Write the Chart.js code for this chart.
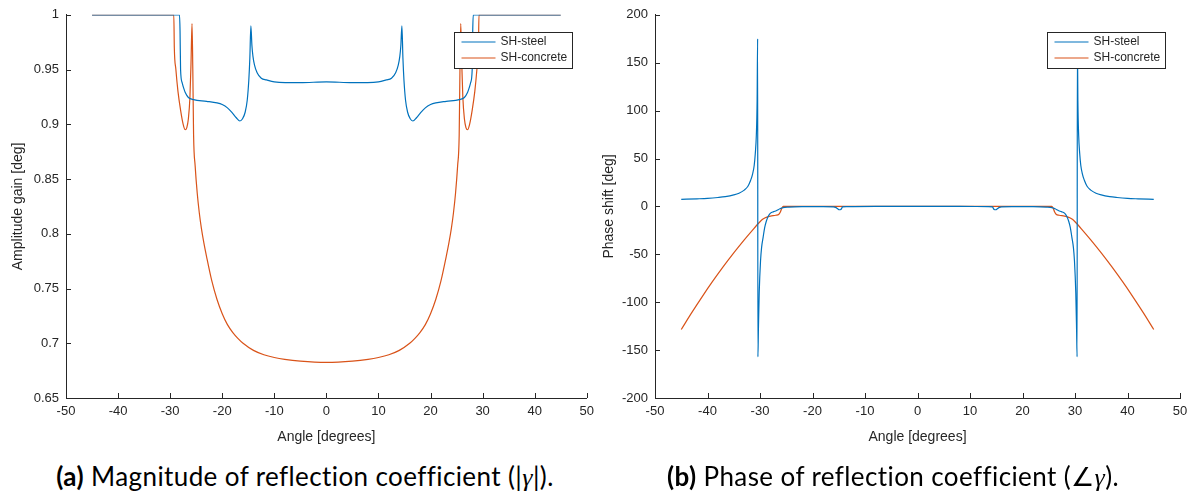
<!DOCTYPE html>
<html>
<head>
<meta charset="utf-8">
<script src="https://cdn.jsdelivr.net/npm/chart.js@4.4.1/dist/chart.umd.min.js"></script>
<style>
  body { margin: 0; background: #fff; }
  #wrap { position: relative; width: 1194px; height: 494px; overflow: hidden; }
  .panel { position: absolute; top: 0; height: 450px; }
  .cap { position: absolute; top: 461px; width: 600px; text-align: center; letter-spacing: 0.4px;
         font-family: Lato, "Open Sans", sans-serif; font-size: 26px; line-height: 30px; color: #000; }
  .cap b { font-weight: 700; }
  .cap i { font-family: "Liberation Serif", serif; font-style: italic; }
</style>
</head>
<body>
<div id="wrap">
  <div class="panel" style="left:0;width:600px"><canvas id="ampChart"></canvas></div>
  <div class="panel" style="left:597px;width:597px"><canvas id="phaseChart"></canvas></div>
  <div class="cap" style="left:5px"><b>(a)</b> Magnitude of reflection coefficient (|<i>γ</i>|).</div>
  <div class="cap" style="left:593px"><b>(b)</b> Phase of reflection coefficient (∠<i>γ</i>).</div>
</div>
<script>
// angle axis
const angleTicks = [-50, -40, -30, -20, -10, 0, 10, 20, 30, 40, 50];
const ampTicks = [0.65, 0.7, 0.75, 0.8, 0.85, 0.9, 0.95, 1];
const ampTickLabels = ['0.65', '0.7', '0.75', '0.8', '0.85', '0.9', '0.95', '1'];
const phaseTicks = [-200, -150, -100, -50, 0, 50, 100, 150, 200];
const seriesNames = ['SH-steel', 'SH-concrete'];

// (a) amplitude, steel
const ampSteelX = [-45, -28.2, -28.1, -28.0, -27.7, -27.4, -27.1, -26.5, -25.5, -23, -21, -20, -19, -18, -17.3, -16.6, -16.1, -15.6, -15.2, -14.9, -14.7, -14.5, -14.3, -14.1, -13.8, -13.3, -12.5, -11.5, -10, -5,
  0,
  5, 10, 11.5, 12.5, 13.3, 13.8, 14.1, 14.3, 14.5, 14.7, 14.9, 15.2, 15.6, 16.1, 16.6, 17.3, 18, 19, 20, 21, 23, 25.5, 26.5, 27.1, 27.4, 27.7, 28.0, 28.1, 28.2, 45];
const ampSteelY = [1, 1, 0.985, 0.95, 0.938, 0.933, 0.929, 0.9245, 0.9225, 0.921, 0.9195, 0.918, 0.915, 0.91, 0.906, 0.903, 0.905, 0.911, 0.922, 0.94, 0.96, 0.99, 0.972, 0.962, 0.954, 0.947, 0.942, 0.9405, 0.9388, 0.938,
  0.9388,
  0.938, 0.9388, 0.9405, 0.942, 0.947, 0.954, 0.962, 0.972, 0.99, 0.96, 0.94, 0.922, 0.911, 0.905, 0.903, 0.906, 0.91, 0.915, 0.918, 0.9195, 0.921, 0.9225, 0.9245, 0.929, 0.933, 0.938, 0.95, 0.985, 1, 1];

// (a) amplitude, concrete
const ampConcX = [-45, -29.3, -29.2, -28.9, -28.5, -28.0, -27.5, -27.1, -26.8, -26.5, -26.2, -26.0, -25.8, -25.65, -25.5, -25.2, -24.8, -24.4, -24, -23.5, -23, -22, -21, -20, -19, -18, -17, -16, -14, -12, -10, -8, -5,
  0,
  5, 8, 10, 12, 14, 16, 17, 18, 19, 20, 21, 22, 23, 23.5, 24, 24.4, 24.8, 25.2, 25.5, 25.65, 25.8, 26.0, 26.2, 26.5, 26.8, 27.1, 27.5, 28.0, 28.5, 28.9, 29.2, 29.3, 45];
const ampConcY = [1, 1, 0.97, 0.95, 0.93, 0.913, 0.9, 0.895, 0.897, 0.905, 0.925, 0.955, 0.992, 0.95, 0.89, 0.862, 0.837, 0.819, 0.805, 0.791, 0.779, 0.757, 0.74, 0.727, 0.717, 0.71, 0.7045, 0.7, 0.6935, 0.6895, 0.687, 0.6853, 0.6837,
  0.6826,
  0.6837, 0.6853, 0.687, 0.6895, 0.6935, 0.7, 0.7045, 0.71, 0.717, 0.727, 0.74, 0.757, 0.779, 0.791, 0.805, 0.819, 0.837, 0.862, 0.89, 0.95, 0.992, 0.955, 0.925, 0.905, 0.897, 0.895, 0.9, 0.913, 0.93, 0.95, 0.97, 1, 1];

// (b) phase, steel
const phaseSteelX = [-45, -42, -40, -38, -36.6, -35, -34, -33, -32.3, -31.8, -31.4, -31.1, -30.9, -30.7, -30.55, -30.45, -30.4, -30.3, -30.15, -29.9, -29.7, -29.4, -29.1, -28.8, -28.4, -28.0, -27.4, -26.9, -26.2, -25.6, -24.5, -22, -18, -16, -15.6, -15.2, -14.9, -14.6, -14.4, -14.3, -13.5, -8,
  0,
  8, 13.5, 14.3, 14.4, 14.6, 14.9, 15.2, 15.6, 16, 18, 22, 24.5, 25.6, 26.2, 26.9, 27.4, 28.0, 28.4, 28.8, 29.1, 29.4, 29.7, 29.9, 30.15, 30.3, 30.4, 30.45, 30.55, 30.7, 30.9, 31.1, 31.4, 31.8, 32.3, 33, 34, 35, 36.6, 38, 40, 42, 45];
const phaseSteelY = [7.3, 7.9, 8.4, 9.3, 10.2, 12, 13.8, 17, 21, 27, 34, 43, 55, 74, 110, 175, -157, -128, -90, -57, -43, -32, -22, -15.5, -10, -7, -5.5, -4.5, -2.5, -1.2, -0.7, -0.3, -0.2, -0.4, -1, -2.5, -3.5, -3.2, -1.5, -0.5, -0.2, 0,
  0,
  0, -0.2, -0.5, -1.5, -3.2, -3.5, -2.5, -1, -0.4, -0.2, -0.3, -0.7, -1.2, -2.5, -4.5, -5.5, -7, -10, -15.5, -22, -32, -43, -57, -90, -128, -157, 175, 110, 74, 55, 43, 34, 27, 21, 17, 13.8, 12, 10.2, 9.3, 8.4, 7.9, 7.3];

// (b) phase, concrete
const phaseConcX = [-45, -43, -41, -39, -37, -35, -33, -31.5, -30, -29.5, -29, -28.5, -28, -27, -26.4, -26.1, -25.8, -25.6,
  0,
  25.6, 25.8, 26.1, 26.4, 27, 28, 28.5, 29, 29.5, 30, 31.5, 33, 35, 37, 39, 41, 43, 45];
const phaseConcY = [-128.5, -110.9, -94.1, -78.1, -62.9, -48.5, -34.9, -25.2, -16, -13.5, -11.8, -10.8, -10.1, -9.2, -8.2, -5.5, -1.5, 0,
  0,
  0, -1.5, -5.5, -8.2, -9.2, -10.1, -10.8, -11.8, -13.5, -16, -25.2, -34.9, -48.5, -62.9, -78.1, -94.1, -110.9, -128.5];

const BLUE = '#0072BD';
const ORANGE = '#D95319';
const AXIS = '#262626';
const FONT = 'Liberation Sans, Arial, Helvetica, sans-serif';

function pts(xs, ys) {
  return xs.map((x, i) => ({ x: x, y: ys[i] }));
}

// legend box drawn inside the plot, top right (matlab style)
const insideLegend = {
  id: 'insideLegend',
  afterDatasetsDraw(chart, args, opts) {
    const ctx = chart.ctx;
    const area = chart.chartArea;
    const w = 118, h = 36;
    const x = Math.round(area.right - opts.right - w) + 0.5;
    const y = Math.round(area.top + 17) + 0.5;
    ctx.save();
    ctx.fillStyle = '#fff';
    ctx.fillRect(x, y, w, h);
    ctx.strokeStyle = AXIS;
    ctx.lineWidth = 1;
    ctx.strokeRect(x, y, w, h);
    ctx.font = '12px ' + FONT;
    ctx.textBaseline = 'middle';
    chart.data.datasets.forEach((ds, i) => {
      const ly = y + 9.5 + i * 16;
      ctx.strokeStyle = ds.borderColor;
      ctx.lineWidth = 1.2;
      ctx.beginPath();
      ctx.moveTo(x + 7, ly);
      ctx.lineTo(x + 41, ly);
      ctx.stroke();
      ctx.fillStyle = AXIS;
      ctx.fillText(ds.label, x + 46, ly);
    });
    ctx.restore();
  }
};

// tick marks pointing into the plot
const innerTicks = {
  id: 'innerTicks',
  afterDraw(chart) {
    const ctx = chart.ctx;
    const area = chart.chartArea;
    const sx = chart.scales.x, sy = chart.scales.y;
    ctx.save();
    ctx.strokeStyle = AXIS;
    ctx.lineWidth = 1;
    ctx.beginPath();
    sx.ticks.forEach(t => {
      const px = Math.round(sx.getPixelForValue(t.value)) + 0.5;
      ctx.moveTo(px, area.bottom);
      ctx.lineTo(px, area.bottom - 5);
    });
    sy.ticks.forEach(t => {
      const py = Math.round(sy.getPixelForValue(t.value)) + 0.5;
      ctx.moveTo(area.left, py);
      ctx.lineTo(area.left + 5, py);
    });
    ctx.stroke();
    ctx.restore();
  }
};

function makeChart(id, sets, yMin, yMax, yTicks, yLabels, yTitle, yWidth, titlePad, padRight, legendRight) {
  return new Chart(document.getElementById(id), {
    type: 'scatter',
    data: {
      datasets: sets.map((s, i) => ({
        label: seriesNames[i],
        data: s,
        showLine: true,
        borderColor: i === 0 ? BLUE : ORANGE,
        borderWidth: 1.2,
        pointRadius: 0,
        cubicInterpolationMode: 'monotone'
      }))
    },
    options: {
      responsive: true,
      maintainAspectRatio: false,
      animation: false,
      layout: { padding: { top: 10, right: padRight, bottom: 0, left: 0 } },
      plugins: {
        legend: { display: false },
        tooltip: { enabled: false },
        insideLegend: { right: legendRight }
      },
      scales: {
        x: {
          type: 'linear',
          min: -50,
          max: 50,
          afterBuildTicks: s => { s.ticks = angleTicks.map(v => ({ value: v })); },
          afterFit: s => { s.height = 52; },
          grid: { drawOnChartArea: false, drawTicks: false },
          border: { color: AXIS, width: 1 },
          ticks: { color: AXIS, font: { family: FONT, size: 13 }, padding: 6, maxRotation: 0, autoSkip: false },
          title: { display: true, text: 'Angle [degrees]', color: AXIS, font: { family: FONT, size: 14 }, padding: { top: 2, bottom: 4 } }
        },
        y: {
          type: 'linear',
          min: yMin,
          max: yMax,
          afterBuildTicks: s => { s.ticks = yTicks.map(v => ({ value: v })); },
          afterFit: s => { s.width = yWidth; },
          grid: { drawOnChartArea: false, drawTicks: false },
          border: { color: AXIS, width: 1 },
          ticks: {
            color: AXIS, font: { family: FONT, size: 13 }, padding: 7, autoSkip: false,
            callback: (v, i) => yLabels[i]
          },
          title: { display: true, text: yTitle, color: AXIS, font: { family: FONT, size: 14 }, padding: { top: titlePad, bottom: 4 } }
        }
      }
    },
    plugins: [innerTicks, insideLegend]
  });
}

makeChart('ampChart',
  [pts(ampSteelX, ampSteelY), pts(ampConcX, ampConcY)],
  0.65, 1, ampTicks, ampTickLabels, 'Amplitude gain [deg]', 66, 10, 8, 15);

makeChart('phaseChart',
  [pts(phaseSteelX, phaseSteelY), pts(phaseConcX, phaseConcY)],
  -200, 200, phaseTicks, phaseTicks.map(String), 'Phase shift [deg]', 58, 4, 14, 15);
</script>
</body>
</html>
